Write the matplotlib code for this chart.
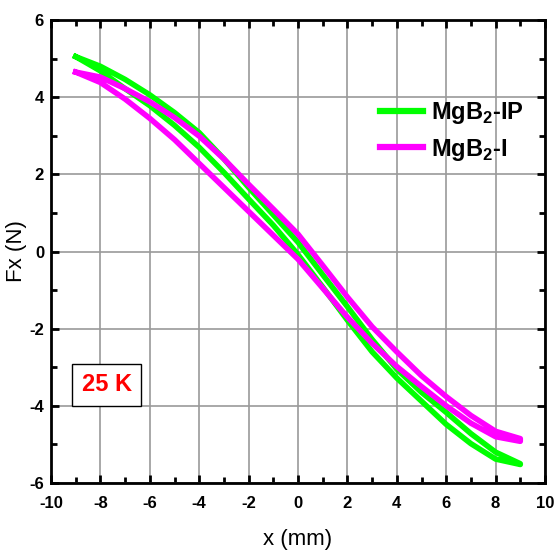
import matplotlib
matplotlib.use("agg")
import matplotlib.pyplot as plt
import matplotlib.font_manager as fm
from matplotlib.ticker import MultipleLocator

# position (mm) where the force was sampled
x_mm = [-9, -8, -7, -6, -5, -4, -3, -2, -1, 0, 1, 2, 3, 4, 5, 6, 7, 8, 9]

# MgB2-IP, the two branches of the loop
ip_up = [5.05, 4.80, 4.46, 4.06, 3.60, 3.08, 2.40, 1.66, 0.95, 0.24,
         -0.60, -1.43, -2.28, -3.05, -3.65, -4.17, -4.72, -5.20, -5.50]
ip_down = [5.05, 4.68, 4.22, 3.78, 3.27, 2.70, 2.05, 1.36, 0.68, -0.08,
           -0.92, -1.78, -2.60, -3.28, -3.88, -4.48, -4.98, -5.38, -5.52]

# MgB2-I, the two branches of the loop
i_up = [4.65, 4.52, 4.22, 3.88, 3.47, 2.99, 2.40, 1.74, 1.10, 0.45,
        -0.36, -1.18, -1.95, -2.60, -3.22, -3.76, -4.25, -4.66, -4.85]
i_down = [4.65, 4.38, 3.95, 3.45, 2.90, 2.28, 1.66, 1.04, 0.42, -0.20,
          -0.95, -1.70, -2.38, -2.98, -3.50, -4.00, -4.45, -4.80, -4.92]

labels = [r"MgB$_\mathbf{2}$-IP", r"MgB$_\mathbf{2}$-I"]
colors = ["#00ff00", "#ff00ff"]

names = {f.name for f in fm.fontManager.ttflist}
narrow = "Liberation Sans Narrow" if "Liberation Sans Narrow" in names else "Liberation Sans"

plt.rcParams["font.family"] = [narrow, "DejaVu Sans"]
plt.rcParams["axes.unicode_minus"] = False
plt.rcParams["mathtext.fontset"] = "custom"
plt.rcParams["mathtext.bf"] = narrow + ":bold"
plt.rcParams["mathtext.rm"] = narrow + ":bold"

fig = plt.figure(figsize=(5.55, 5.51), dpi=100)
ax = fig.add_axes([51 / 555, 68 / 551, 494 / 555, 463 / 551])

loop_x = x_mm + x_mm[::-1]
ax.plot(loop_x, ip_up + ip_down[::-1], color=colors[0], lw=4,
        solid_joinstyle="round", label=labels[0], zorder=3)
ax.plot(loop_x, i_up + i_down[::-1], color=colors[1], lw=4,
        solid_joinstyle="round", label=labels[1], zorder=4)

ax.set_xlim(-10, 10)
ax.set_ylim(-6, 6)
ax.xaxis.set_major_locator(MultipleLocator(2))
ax.xaxis.set_minor_locator(MultipleLocator(1))
ax.yaxis.set_major_locator(MultipleLocator(2))
ax.yaxis.set_minor_locator(MultipleLocator(1))
ax.grid(True, which="major", color="#9a9a9a", lw=1.2)
ax.set_axisbelow(True)

for s in ax.spines.values():
    s.set_linewidth(2)
ax.tick_params(which="both", direction="in", top=True, right=True, width=2)
ax.tick_params(which="major", length=6, labelsize=12)
ax.tick_params(which="minor", length=4)
ax.tick_params(axis="x", which="major", pad=9)
ax.tick_params(axis="y", which="major", pad=5)
for lab in ax.get_xticklabels() + ax.get_yticklabels():
    lab.set_fontweight("bold")

ax.set_xlabel("x (mm)", fontsize=16, labelpad=13)
ax.set_ylabel("Fx (N)", fontsize=16, labelpad=2)

leg = ax.legend(loc="upper left", bbox_to_anchor=(380 / 555, 451 / 551),
                bbox_transform=fig.transFigure, frameon=False, fontsize=17,
                handlelength=1.8, handletextpad=0.35, labelspacing=0.45,
                borderpad=0, borderaxespad=0)
for t in leg.get_texts():
    t.set_fontweight("bold")
for h in leg.get_lines():
    h.set_linewidth(4.5)

ax.text(-7.75, -3.46, "25 K", color="red", fontsize=17, fontweight="bold",
        ha="center", va="center", zorder=5,
        bbox=dict(boxstyle="square,pad=0.4", fc="white", ec="black", lw=1))

fig.savefig("out.png", dpi=100)
